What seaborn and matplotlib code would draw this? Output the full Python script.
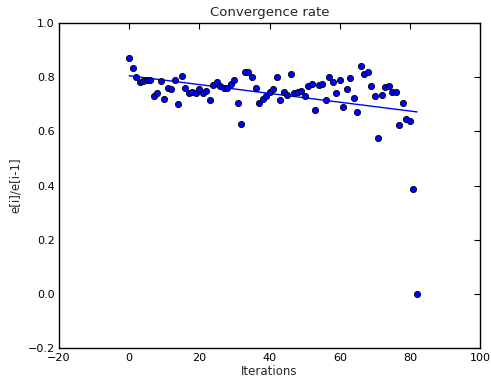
import numpy as np
import pandas as pd
import matplotlib
matplotlib.use("Agg")
import matplotlib.pyplot as plt
import seaborn as sns

iterations = list(range(83))
ratio = [0.87, 0.835, 0.80, 0.78, 0.785, 0.79, 0.79, 0.73, 0.74, 0.785,
         0.72, 0.76, 0.755, 0.79, 0.70, 0.805, 0.76, 0.74, 0.745, 0.74,
         0.755, 0.74, 0.75, 0.715, 0.77, 0.78, 0.765, 0.76, 0.76, 0.775,
         0.79, 0.705, 0.625, 0.82, 0.82, 0.80, 0.76, 0.705, 0.72, 0.73,
         0.745, 0.755, 0.80, 0.715, 0.745, 0.735, 0.81, 0.74, 0.745, 0.75,
         0.73, 0.765, 0.775, 0.68, 0.77, 0.775, 0.715, 0.80, 0.78, 0.74,
         0.79, 0.69, 0.755, 0.797, 0.721, 0.672, 0.841, 0.811, 0.819, 0.766,
         0.729, 0.576, 0.732, 0.764, 0.766, 0.743, 0.745, 0.624, 0.706, 0.646,
         0.638, 0.388, 0.0]

xticks = [-20, 0, 20, 40, 60, 80, 100]
yticks = [-0.2, 0.0, 0.2, 0.4, 0.6, 0.8, 1.0]

df = pd.DataFrame({"Iterations": iterations, "ratio": ratio})

sns.set_style("white")
plt.rcParams['font.family'] = ['DejaVu Sans']

fig = plt.figure(figsize=(4.91, 3.85), dpi=100)
ax = fig.add_axes([0.120, 0.095, 0.858, 0.846])

sns.regplot(data=df, x="Iterations", y="ratio", ax=ax, ci=None,
            scatter_kws=dict(s=20, color="#0000ff", edgecolor="black",
                             linewidths=0.6, alpha=1, zorder=3),
            line_kws=dict(color="#0000ff", linewidth=1, zorder=2))

ax.set_xlim(-20, 100)
ax.set_ylim(-0.2, 1.0)
ax.set_xticks(xticks)
ax.set_yticks(yticks)
ax.set_xticklabels([f"{t}".replace("-", "\u2212") for t in xticks], fontsize=8)
ax.set_yticklabels([f"{t:.1f}".replace("-", "\u2212") for t in yticks], fontsize=8)
ax.tick_params(direction="in", length=4, width=0.8, top=True, right=True,
               colors="black", pad=3)
for s in ax.spines.values():
    s.set_color("black")
    s.set_linewidth(1.0)
    s.set_visible(True)

ax.set_xlabel("Iterations", fontsize=8.5, labelpad=2)
ax.set_ylabel("e[i]/e[i-1]", fontsize=8.5, labelpad=4)
ax.set_title("Convergence rate", fontsize=9.5, pad=5)

fig.savefig("out.png", dpi=100, facecolor="white")
